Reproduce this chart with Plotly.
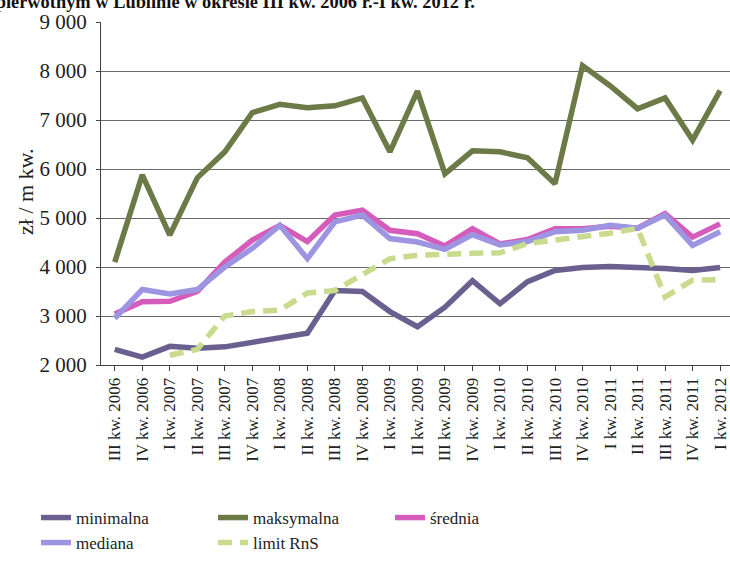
import plotly.graph_objects as go

categories = ["III kw. 2006", "IV kw. 2006", "I kw. 2007", "II kw. 2007", "III kw. 2007",
              "IV kw. 2007", "I kw. 2008", "II kw. 2008", "III kw. 2008", "IV kw. 2008",
              "I kw. 2009", "II kw. 2009", "III kw. 2009", "IV kw. 2009", "I kw. 2010",
              "II kw. 2010", "III kw. 2010", "IV kw. 2010", "I kw. 2011", "II kw. 2011",
              "III kw. 2011", "IV kw. 2011", "I kw. 2012"]

minimalna = [2320, 2160, 2380, 2340, 2370, 2460, 2550, 2650, 3520, 3500, 3090, 2780,
             3180, 3720, 3250, 3700, 3930, 3990, 4010, 4000, 3970, 3930, 3990]
maksymalna = [4100, 5880, 4650, 5820, 6350, 7150, 7320, 7250, 7290, 7450, 6350, 7590,
              5900, 6370, 6350, 6230, 5700, 8110, 7700, 7230, 7450, 6590, 7600]
srednia = [3040, 3290, 3300, 3500, 4100, 4550, 4850, 4520, 5060, 5160, 4750, 4680,
           4430, 4780, 4470, 4560, 4780, 4780, 4830, 4790, 5090, 4610, 4880]
mediana = [2950, 3540, 3450, 3540, 4000, 4380, 4850, 4170, 4920, 5060, 4580, 4510,
           4360, 4660, 4450, 4520, 4720, 4750, 4850, 4790, 5060, 4440, 4720]
limit_rns = [None, None, 2200, 2320, 3000, 3090, 3120, 3470, 3520, 3860, 4170, 4240,
             4270, 4280, 4290, 4480, 4550, 4620, 4690, 4790, 3390, 3730, 3740]

y_ticks = [2000, 3000, 4000, 5000, 6000, 7000, 8000, 9000]
y_tick_text = ["2 000", "3 000", "4 000", "5 000", "6 000", "7 000", "8 000", "9 000"]

series = [
    ("minimalna", minimalna, "#6a6090", "solid", "legend"),
    ("maksymalna", maksymalna, "#6b7a46", "solid", "legend"),
    ("średnia", srednia, "#d65cbc", "solid", "legend"),
    ("mediana", mediana, "#9d95e2", "solid", "legend2"),
    ("limit RnS", limit_rns, "#c9db8c", "14px,8px", "legend2"),
]

FONT = "Liberation Serif"
W, H = 730, 563
L, T = 101, 22
B = H - 365
R = 0
PW = W - L - R
PH = H - T - B


def px_x(px):
    return (px - L) / PW


def px_y(py):
    return (H - B - py) / PH


fig = go.Figure()
for name, vals, color, dash, leg in series:
    fig.add_trace(go.Scatter(
        x=list(range(len(categories))), y=vals, name=name, mode="lines",
        line=dict(color=color, width=5.5, dash=dash),
        connectgaps=False, legend=leg,
    ))

legend_common = dict(
    orientation="h", xanchor="left", yanchor="middle",
    font=dict(family=FONT, size=17, color="#222222"),
    entrywidth=132, entrywidthmode="pixels", itemwidth=30,
    bgcolor="rgba(0,0,0,0)", borderwidth=0,
)

fig.update_layout(
    width=W, height=H,
    margin=dict(l=L, r=R, t=T, b=B, autoexpand=False),
    paper_bgcolor="white", plot_bgcolor="white",
    font=dict(family=FONT, color="#222222"),
    showlegend=True,
    legend=dict(x=px_x(36), y=px_y(518), **legend_common),
    legend2=dict(x=px_x(36), y=px_y(543), **legend_common),
    xaxis=dict(
        range=[-0.5, 22.36], automargin=False,
        tickmode="array", tickvals=list(range(len(categories))), ticktext=categories,
        tickangle=-90, tickson="boundaries", ticks="outside", ticklen=5,
        tickcolor="#444444", showline=True, linecolor="#444444", linewidth=1,
        showgrid=False, zeroline=False, ticklabeloverflow="allow",
        tickfont=dict(family=FONT, size=17, color="#222222"),
    ),
    yaxis=dict(
        range=[2000, 9000], tickmode="array", tickvals=y_ticks, ticktext=y_tick_text,
        automargin=False,
        ticks="outside", ticklen=4, tickcolor="#444444",
        showline=True, linecolor="#444444", linewidth=1,
        showgrid=True, gridcolor="#6a6a6a", gridwidth=1, zeroline=False,
        tickfont=dict(family=FONT, size=21, color="#222222"),
        ticklabelstandoff=5,
    ),
    annotations=[
        dict(text="zł / m kw.", xref="paper", yref="paper", x=px_x(25), y=px_y(192),
             xanchor="center", yanchor="middle", textangle=-90, showarrow=False,
             font=dict(family=FONT, size=22, color="#222222")),
        dict(text="<b>na rynku pierwotnym w Lublinie w okresie III kw. 2006 r.-I kw. 2012 r.</b>",
             xref="paper", yref="paper", x=px_x(477), y=px_y(14),
             xanchor="right", yanchor="bottom", showarrow=False,
             font=dict(family=FONT, size=18.4, color="#111111")),
    ],
)

fig.write_html("out.html", config={"displayModeBar": False},
               post_script="document.body.style.margin='0';")
